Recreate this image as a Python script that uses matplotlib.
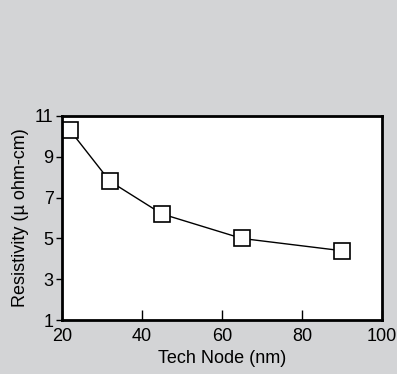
import matplotlib
matplotlib.use("Agg")
import matplotlib.pyplot as plt

tech_node = [22, 32, 45, 65, 90]
resistivity = [10.3, 7.8, 6.2, 5.0, 4.4]
x_ticks = [20, 40, 60, 80, 100]
y_ticks = [1, 3, 5, 7, 9, 11]

plt.rcParams['font.family'] = ['Liberation Sans', 'DejaVu Sans']

bg = '#d3d4d6'
fig = plt.figure(figsize=(3.97, 3.74), dpi=100, facecolor=bg)
ax = fig.add_axes([0.156, 0.144, 0.806, 0.546])
ax.plot(tech_node, resistivity, color='black', linewidth=1.0,
        marker='s', markersize=12, markerfacecolor='white',
        markeredgecolor='black', markeredgewidth=1.2)
ax.set_xlim(20, 100)
ax.set_ylim(1, 11)
ax.set_xticks(x_ticks)
ax.set_yticks(y_ticks)
ax.tick_params(axis='x', direction='in', length=7, width=1, labelsize=13, pad=6)
ax.tick_params(axis='y', direction='out', length=4, width=1, labelsize=13, pad=2)
for s in ax.spines.values():
    s.set_linewidth(2)
ax.set_xlabel('Tech Node (nm)', fontsize=13, labelpad=3)
ax.set_ylabel('Resistivity (\u00b5 ohm-cm)', fontsize=13, labelpad=4)

fig.savefig('out.png', dpi=100, facecolor=bg)
